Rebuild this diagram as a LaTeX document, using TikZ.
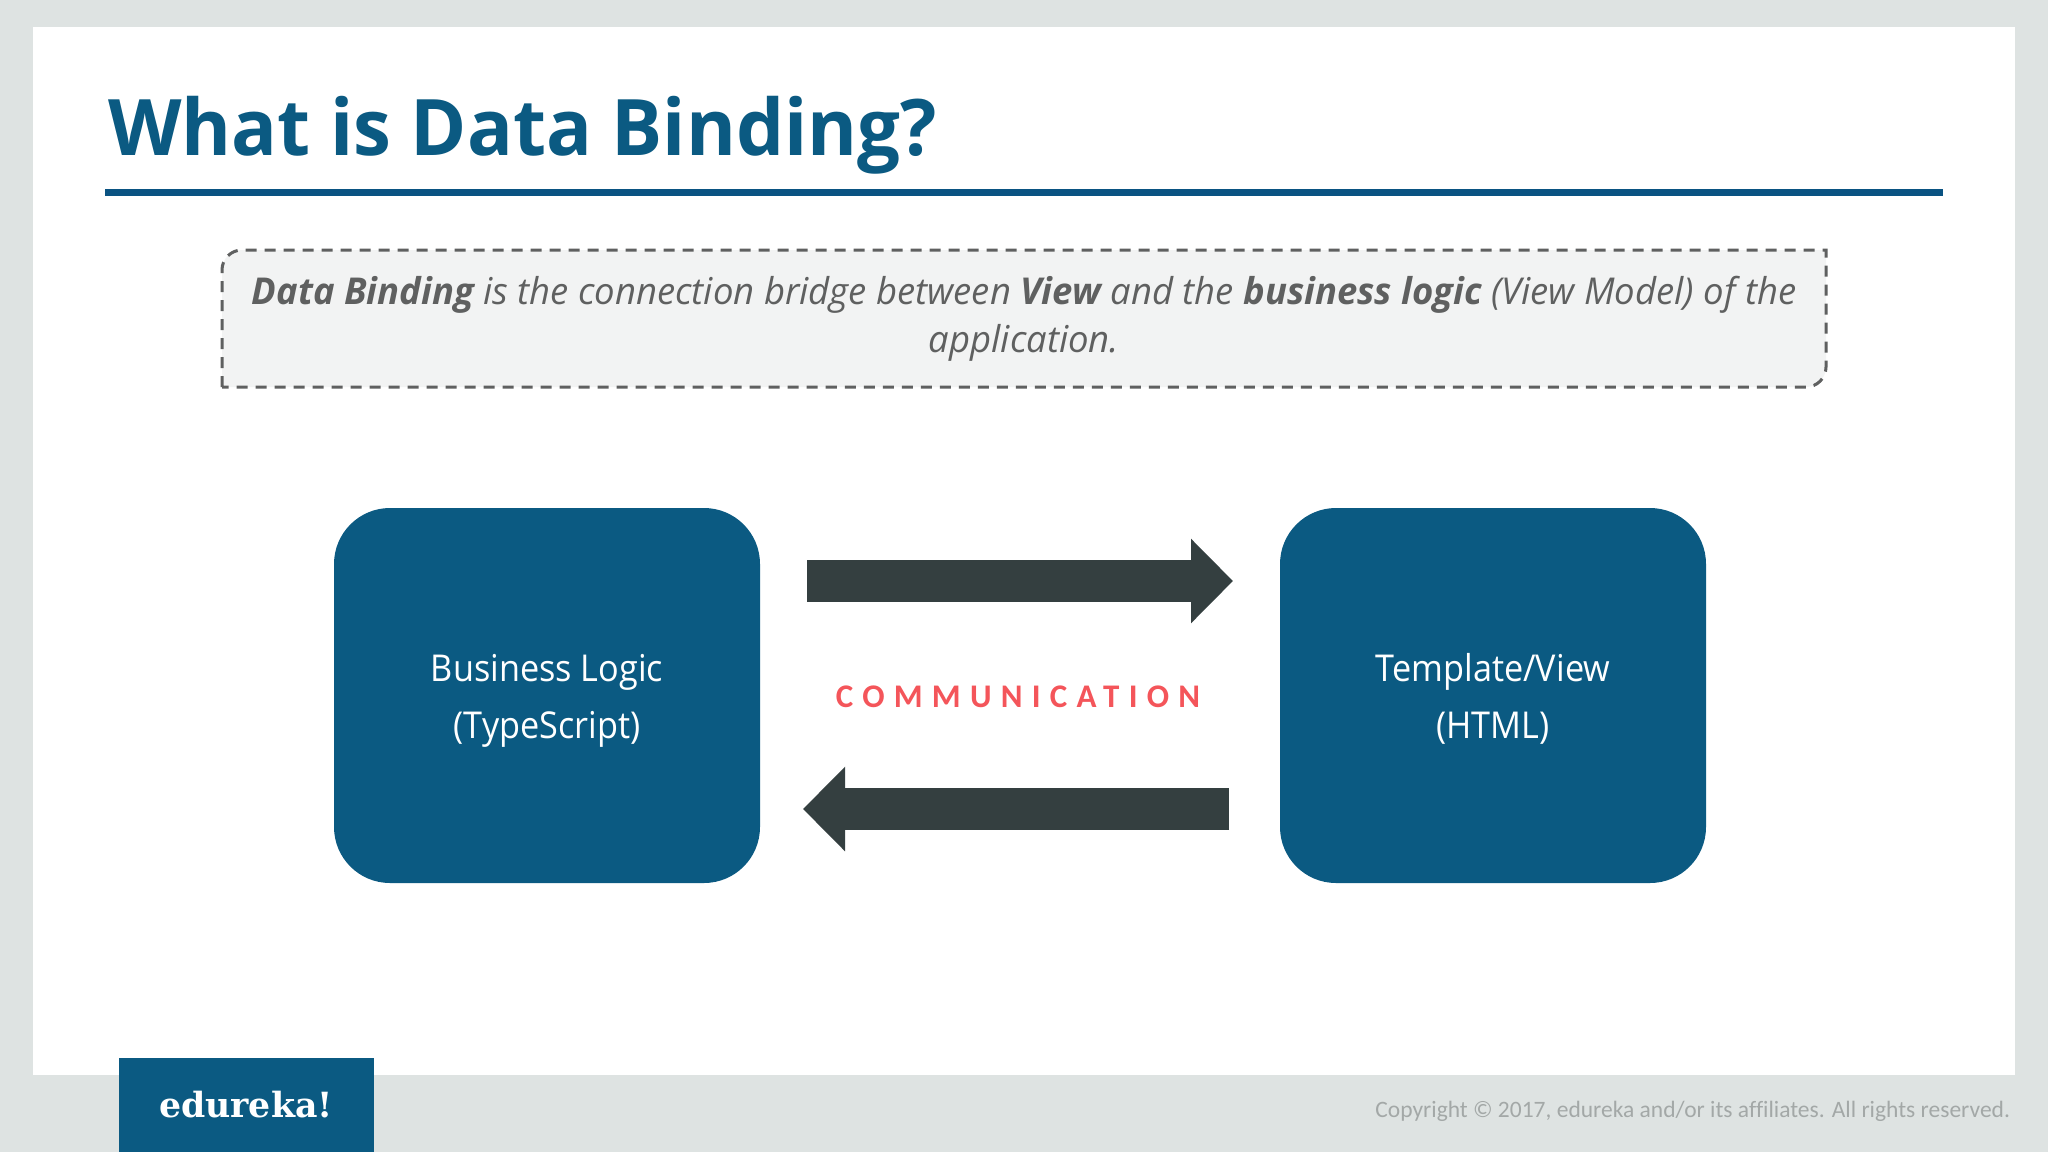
\documentclass[tikz,border=0pt]{standalone}
\usepackage{fontspec}
\setmainfont[Ligatures=NoCommon]{Carlito}
\newfontfamily\logofont{DejaVu Serif}
\newfontfamily\spacedfont[LetterSpace=28,Ligatures=NoCommon]{Carlito}
\newfontfamily\titlefont[FakeStretch=0.975]{Open Sans}
\newfontfamily\notefont[FakeStretch=0.985]{Open Sans}
\newfontfamily\boxfont[FakeStretch=0.925]{Open Sans}
\newcommand{\boxlines}[2]{\rule{0pt}{39pt}#1\\\rule[-10pt]{0pt}{10pt}#2}
\usetikzlibrary{arrows.meta}
\definecolor{pagegrey}{HTML}{DEE3E2}
\definecolor{brandblue}{HTML}{0B5A82}
\definecolor{rulblue}{HTML}{0A5382}
\definecolor{arrowdark}{HTML}{343F40}
\definecolor{commred}{HTML}{F4555A}
\definecolor{notegrey}{HTML}{5F6060}
\definecolor{notefill}{HTML}{F2F3F3}
\definecolor{copygrey}{HTML}{A3A8A7}
\tikzset{
  every node/.style={inner sep=0pt,outer sep=0pt},
  bluebox/.style={fill=brandblue,rounded corners=56pt,minimum width=426pt,minimum height=375pt,
    text=white,align=center,font=\boxfont\fontsize{37}{57}\selectfont},
  blockarrow/.style={line width=42pt,color=arrowdark,-{Triangle[length=42pt,width=82pt]}},
}
\begin{document}
\begin{tikzpicture}[x=1pt,y=-1pt]
\useasboundingbox (0,0) rectangle (2048,1152);
\fill[pagegrey] (0,0) rectangle (2048,1152);
\fill[white] (33,27) rectangle (2015,1075);
\node[anchor=base west,text=brandblue,font=\titlefont\fontsize{78}{90}\selectfont\bfseries] (title) at (108,155) {What is Data Binding?};
\fill[rulblue] (105,189) rectangle (1943,196);
\draw[draw=notegrey,fill=notefill,line width=3pt,dash pattern=on 11pt off 8pt]
  (222,387) -- (222,270) [rounded corners=20pt] -- (222,250) [sharp corners] -- (1826,250) -- (1826,367)
  [rounded corners=20pt] -- (1826,387) [sharp corners] -- cycle;
\node[text=notegrey,font=\notefont\fontsize{37}{48}\selectfont\itshape,align=center] (note) at (1024,319)
  {\textbf{Data Binding} is the connection bridge between \textbf{View} and the \textbf{business logic} (View Model) of the\\application.};
\node[bluebox] (biz) at (547,695.5) {\boxlines{Business Logic}{(TypeScript)}};
\node[bluebox] (tpl) at (1493,695.5) {\boxlines{Template/View}{(HTML)}};
\coordinate (upper) at (0,581);
\coordinate (lower) at (0,809);
\draw[blockarrow,shorten <=47pt,shorten >=47pt] (biz.east |- upper) -- (tpl.west |- upper);
\draw[blockarrow,shorten <=51pt,shorten >=43pt] (tpl.west |- lower) -- (biz.east |- lower);
\node[anchor=base,text=commred,font=\fontsize{33}{36}\selectfont\spacedfont\bfseries] (comm) at (1018,707) {COMMUNICATION};
\fill[brandblue] (119,1058) rectangle (374,1152);
\node[anchor=base,text=white,font=\fontsize{34.7}{40}\selectfont\logofont\bfseries] (logo) at (246,1117) {edureka!};
\node[anchor=base east,text=copygrey,font=\fontsize{23.5}{28}\selectfont] (copy) at (2010,1117) {Copyright © 2017, edureka and/or its affiliates. All rights reserved.};
\end{tikzpicture}
\end{document}
